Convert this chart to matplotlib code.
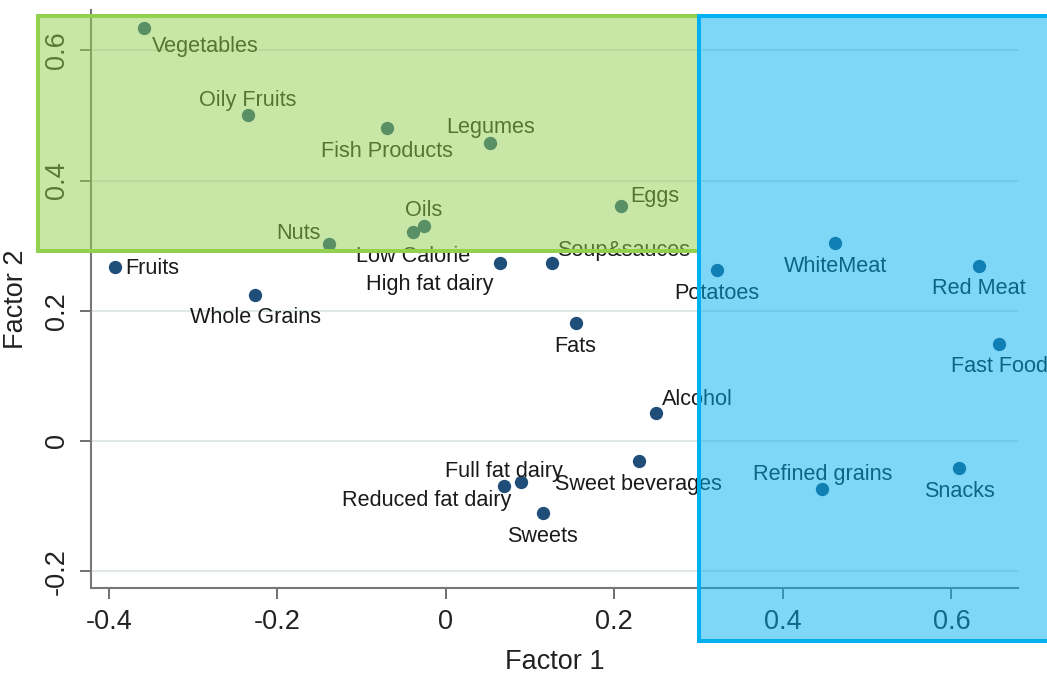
import matplotlib
matplotlib.use('Agg')
import matplotlib.pyplot as plt
from matplotlib.patches import Rectangle
from matplotlib.lines import Line2D

plt.rcParams['font.family'] = ['Liberation Sans', 'DejaVu Sans']

# food groups and their factor loadings
foods = ['Vegetables', 'Oily Fruits', 'Fish Products', 'Legumes', 'Eggs', 'Nuts',
         'Oils', 'Low Calorie', 'Fruits', 'Whole Grains', 'High fat dairy',
         'Soup&sauces', 'Fats', 'Potatoes', 'WhiteMeat', 'Red Meat', 'Fast Food',
         'Alcohol', 'Sweet beverages', 'Full fat dairy', 'Reduced fat dairy',
         'Sweets', 'Refined grains', 'Snacks']
factor1 = [-0.358, -0.235, -0.070, 0.053, 0.208, -0.139,
           -0.026, -0.039, -0.392, -0.226, 0.064,
           0.126, 0.154, 0.322, 0.462, 0.633, 0.657,
           0.250, 0.229, 0.069, 0.089,
           0.115, 0.447, 0.609]
factor2 = [0.634, 0.501, 0.481, 0.458, 0.361, 0.303,
           0.330, 0.321, 0.267, 0.224, 0.273,
           0.273, 0.181, 0.263, 0.304, 0.269, 0.149,
           0.043, -0.031, -0.069, -0.063,
           -0.111, -0.074, -0.042]

xticks = [-0.4, -0.2, 0, 0.2, 0.4, 0.6]
yticks = [-0.2, 0, 0.2, 0.4, 0.6]
xtick_labels = ['-0.4', '-0.2', '0', '0.2', '0.4', '0.6']
ytick_labels = ['-0.2', '0', '0.2', '0.4', '0.6']

# label placement: (ha, dx px, dy px down)
label_pos = {
    'Vegetables': ('left', 8, 24), 'Oily Fruits': ('center', 0, -9),
    'Fish Products': ('center', 0, 29), 'Legumes': ('center', 0, -10),
    'Eggs': ('left', 9, -4), 'Nuts': ('right', -8, -5),
    'Oils': ('center', 0, -10), 'Low Calorie': ('center', 0, 30),
    'Fruits': ('left', 10, 7), 'Whole Grains': ('center', 0, 28),
    'High fat dairy': ('right', -6, 27), 'Soup&sauces': ('left', 5, -7),
    'Fats': ('center', 0, 29), 'Potatoes': ('center', 0, 29),
    'WhiteMeat': ('center', 0, 29), 'Red Meat': ('center', 0, 28),
    'Fast Food': ('center', 0, 28), 'Alcohol': ('left', 5, -8),
    'Sweet beverages': ('center', 0, 29), 'Full fat dairy': ('center', 0, -9),
    'Reduced fat dairy': ('right', -9, 24), 'Sweets': ('center', 0, 29),
    'Refined grains': ('center', 0, -9), 'Snacks': ('center', 0, 29),
}

W, H = 1047, 674
fig = plt.figure(figsize=(W / 100, H / 100), dpi=100)
ax = fig.add_axes([91 / W, 1 - 588 / H, (1018 - 91) / W, (588 - 10) / H])

ax.scatter(factor1, factor2, s=92, color='#1f4e79', zorder=3, linewidths=0)
for name, x, y in zip(foods, factor1, factor2):
    ha, dx, dy = label_pos[name]
    ax.annotate(name, (x, y), xytext=(dx, -dy), textcoords='offset pixels',
                ha=ha, va='baseline', fontsize=15.6, color='#1a1a1a',
                annotation_clip=False, zorder=4)

ax.set_xlim(-0.421, 0.679)
ax.set_ylim(-0.226, 0.662)
ax.set_xticks(xticks)
ax.set_xticklabels(xtick_labels)
ax.set_yticks(yticks)
ax.set_yticklabels(ytick_labels, rotation=90, va='center')
ax.tick_params(labelsize=19.5, labelcolor='#222222', color='#666666',
               length=8, width=1.3, pad=7)
ax.grid(axis='y', color='#dde6e6', linewidth=1.3)
ax.set_axisbelow(True)
for side in ['top', 'right']:
    ax.spines[side].set_visible(False)
for side in ['left', 'bottom']:
    ax.spines[side].set_color('#777777')
    ax.spines[side].set_linewidth(1.5)

ax.set_xlabel('Factor 1', fontsize=19.5, color='#222222', labelpad=10)
ax.set_ylabel('Factor 2', fontsize=19.5, color='#222222', labelpad=11)

# highlight boxes on top of the plot
green = Rectangle((38 / W, 1 - 251 / H), (699 - 38) / W, (251 - 16) / H,
                  transform=fig.transFigure, facecolor=(0.573, 0.816, 0.314, 0.5),
                  edgecolor='#92d050', linewidth=2.9, zorder=10)
fig.add_artist(green)

# blue box runs off the right edge, so draw fill and three border sides
bx0, bx1, by0, by1 = 699 / W, 1.0, 1 - 641 / H, 1 - 16 / H
blue = Rectangle((bx0, by0), bx1 - bx0, by1 - by0, transform=fig.transFigure,
                 facecolor=(0.0, 0.69, 0.94, 0.5), edgecolor='none', zorder=11)
fig.add_artist(blue)
border = Line2D([bx1 + 0.01, bx0, bx0, bx1 + 0.01], [by1, by1, by0, by0],
                transform=fig.transFigure, color='#00b0f0', linewidth=2.9,
                solid_joinstyle='miter', zorder=12)
fig.add_artist(border)

fig.savefig('out.png', dpi=100)
